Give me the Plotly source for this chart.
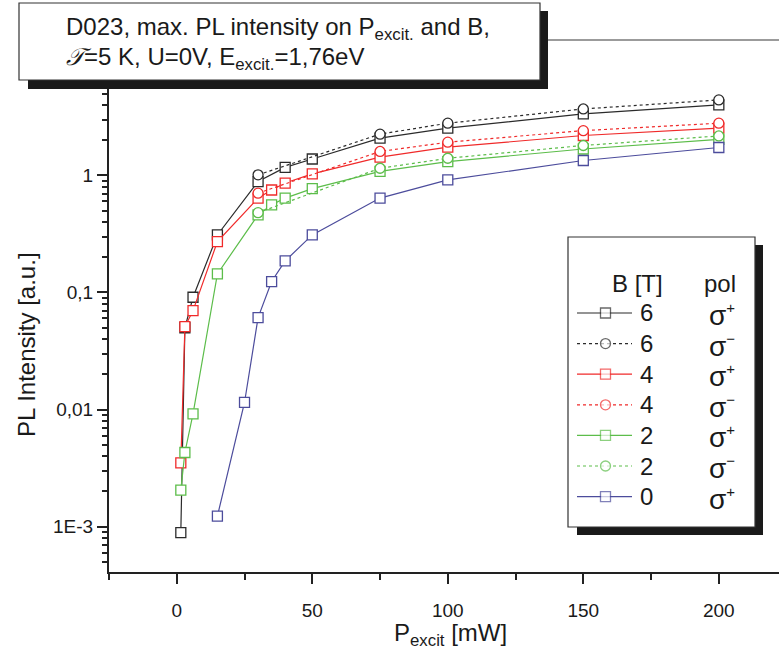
import plotly.graph_objects as go

# ---------------- data ----------------
x_b6p = [1.5, 3, 6, 15, 30, 40, 50, 75, 100, 150, 200]
y_b6p = [8.9e-4, 0.05, 0.091, 0.31, 0.885, 1.17, 1.38, 2.08, 2.53, 3.35, 4.0]

x_b6m = [30, 75, 100, 150, 200]
y_b6m = [1.01, 2.25, 2.79, 3.69, 4.41]

x_b4p = [1.5, 3, 6, 15, 30, 35, 40, 50, 75, 100, 150, 200]
y_b4p = [0.0035, 0.051, 0.070, 0.272, 0.64, 0.75, 0.86, 1.03, 1.43, 1.74, 2.19, 2.53]

x_b4m = [30, 75, 100, 150, 200]
y_b4m = [0.705, 1.60, 1.92, 2.41, 2.79]

x_b2p = [1.5, 3, 6, 15, 30, 35, 40, 50, 75, 100, 150, 200]
y_b2p = [0.00205, 0.0043, 0.0092, 0.144, 0.46, 0.56, 0.64, 0.77, 1.08, 1.31, 1.68, 2.03]

x_b2m = [30, 75, 100, 150, 200]
y_b2m = [0.48, 1.15, 1.40, 1.80, 2.17]

x_b0p = [15, 25, 30, 35, 40, 50, 75, 100, 150, 200]
y_b0p = [0.00123, 0.0115, 0.061, 0.124, 0.186, 0.31, 0.64, 0.915, 1.34, 1.73]

x_ticks = [0, 50, 100, 150, 200]
x_minor = [-25, 25, 75, 125, 175]
y_ticks = [1e-3, 1e-2, 1e-1, 1]
y_ticktext = ["1E-3", "0,01", "0,1", "1"]
y_minor = [m * 10.0 ** k for k in range(-4, 2) for m in range(2, 10)]

B_labels = ["6", "6", "4", "4", "2", "2", "0"]
pol_labels = ["+", "−", "+", "−", "+", "−", "+"]

BLACK = "#2b2b2b"
RED = "#f02a2a"
GREEN = "#5cbd4a"
BLUE = "#4c4c9c"

series = [
    (x_b6p, y_b6p, BLACK, "square", "solid"),
    (x_b6m, y_b6m, BLACK, "circle", "dot"),
    (x_b4p, y_b4p, RED, "square", "solid"),
    (x_b4m, y_b4m, RED, "circle", "dot"),
    (x_b2p, y_b2p, GREEN, "square", "solid"),
    (x_b2m, y_b2m, GREEN, "circle", "dot"),
    (x_b0p, y_b0p, BLUE, "square", "solid"),
]

W, H = 779, 659
L, R, T, B = 109, 779, 40, 572
FONT = "Liberation Sans, Arial, sans-serif"


def px(x):
    return (x - L) / (R - L)


def py(y):
    return (B - y) / (B - T)


fig = go.Figure()

for xs, ys, col, sym, dash in series:
    fig.add_trace(go.Scatter(
        x=xs, y=ys, mode="lines+markers",
        line=dict(color=col, width=1.2, dash=dash),
        marker=dict(symbol=sym, size=10, color="white",
                    line=dict(color=col, width=1.3)),
        showlegend=False, hoverinfo="skip",
    ))

# ---- custom legend samples on a pixel-mapped overlay axis ----
row_y0, row_dy = 313, 30.6
for i, (xs, ys, col, sym, dash) in enumerate(series):
    yy = row_y0 + i * row_dy
    fig.add_trace(go.Scatter(
        x=[577, 605.5, 632], y=[yy, yy, yy], mode="lines+markers",
        xaxis="x2", yaxis="y2",
        line=dict(color=col, width=1.2, dash=dash),
        marker=dict(symbol=sym, size=[0, 10, 0], color="white",
                    line=dict(color=col, width=[0, 1.3, 0])),
        showlegend=False, hoverinfo="skip",
    ))

shapes = []
# top frame line (grey)
shapes.append(dict(type="line", xref="paper", yref="paper",
                   x0=px(547), x1=px(779), y0=py(40), y1=py(40),
                   line=dict(color="#7a7a7a", width=1.5), layer="above"))
# title box with shadow
shapes.append(dict(type="rect", xref="paper", yref="paper",
                   x0=px(28), x1=px(548), y0=py(89), y1=py(11),
                   fillcolor="#1a1a1a", line=dict(width=0), layer="above"))
shapes.append(dict(type="rect", xref="paper", yref="paper",
                   x0=px(19), x1=px(540), y0=py(80), y1=py(3),
                   fillcolor="white", line=dict(color="#333", width=1.2), layer="above"))
# legend box with shadow
shapes.append(dict(type="rect", xref="paper", yref="paper",
                   x0=px(577), x1=px(763), y0=py(535), y1=py(245),
                   fillcolor="#1a1a1a", line=dict(width=0), layer="below"))
shapes.append(dict(type="rect", xref="paper", yref="paper",
                   x0=px(568), x1=px(755), y0=py(527), y1=py(237),
                   fillcolor="white", line=dict(color="#333", width=1.2), layer="below"))

ann = []


def text(x, y, s, size, xanchor="left", angle=0):
    ann.append(dict(xref="paper", yref="paper", x=px(x), y=py(y), text=s,
                    showarrow=False, xanchor=xanchor, yanchor="middle",
                    textangle=angle,
                    font=dict(family=FONT, size=size, color="#1a1a1a")))


text(64, 28, "D023, max. PL intensity on P<sub>excit.</sub> and B,", 24)
text(64, 58, "<i>𝒯</i>=5 K, U=0V, E<sub>excit.</sub>=1,76eV", 24)

text(637, 283, "B [T]", 24, "center")
text(720, 283, "pol", 24, "center")
for i in range(len(B_labels)):
    yy = row_y0 + i * row_dy
    text(638, yy, B_labels[i], 24, "left")
    text(722, yy + 2, "σ<sup><span style='font-size:15px'>" + pol_labels[i] + "</span></sup>",
         28, "center")

text(27, 345, "PL Intensity [a.u.]", 24, "center", -90)
text(450, 634, "P<sub>excit</sub> [mW]", 24, "center")

fig.update_layout(
    width=W, height=H,
    margin=dict(l=L, r=W - R, t=T, b=H - B, pad=0),
    paper_bgcolor="white", plot_bgcolor="white",
    shapes=shapes, annotations=ann,
    xaxis=dict(range=[-25, 222.2], tickmode="array", tickvals=x_ticks,
               ticks="outside", ticklen=10, tickwidth=1.8, tickcolor="#222",
               showline=True, linecolor="#222", linewidth=2,
               showgrid=False, zeroline=False, ticklabelstandoff=10,
               tickfont=dict(family=FONT, size=19, color="#1a1a1a"),
               minor=dict(tickmode="array", tickvals=x_minor, ticks="outside",
                          ticklen=6, tickwidth=1.5, tickcolor="#222", showgrid=False)),
    yaxis=dict(type="log", range=[-3.387, 1.156], tickmode="array",
               tickvals=y_ticks, ticktext=y_ticktext,
               ticks="outside", ticklen=10, tickwidth=1.8, tickcolor="#222",
               showline=True, linecolor="#222", linewidth=2,
               showgrid=False, zeroline=False,
               tickfont=dict(family=FONT, size=19, color="#1a1a1a"),
               minor=dict(tickmode="array", tickvals=y_minor, ticks="outside",
                          ticklen=5, tickwidth=1.5, tickcolor="#222", showgrid=False)),
    xaxis2=dict(overlaying="x", range=[L, R], visible=False, fixedrange=True),
    yaxis2=dict(overlaying="y", range=[B, T], visible=False, fixedrange=True),
)

fig.write_html("out.html")
